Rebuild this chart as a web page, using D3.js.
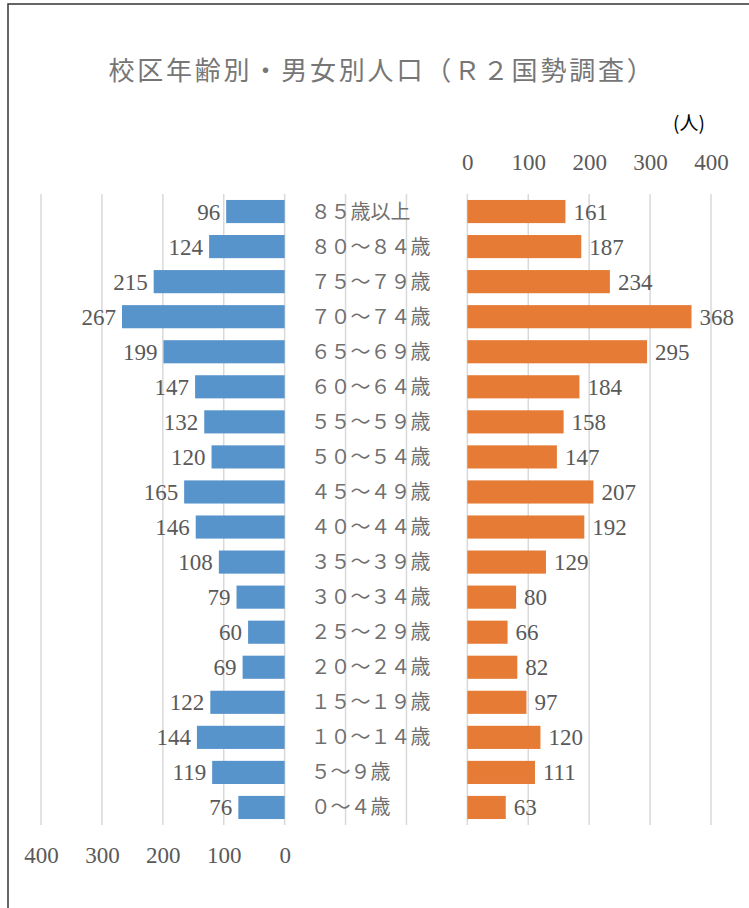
<!DOCTYPE html>
<html>
<head>
<meta charset="utf-8">
<script src="https://cdn.jsdelivr.net/npm/d3@7"></script>
<style>
  body { margin: 0; background: #fff; }
  svg { display: block; }
  .num { font-family: "Liberation Serif", "DejaVu Serif", serif; font-size: 23px; fill: #595959; }
  .cat { font-family: "Noto Sans CJK JP", sans-serif; font-size: 20px; fill: #707070; }
</style>
</head>
<body>
<svg id="chart" width="749" height="908"></svg>
<script>
// age groups, top to bottom
var categories = ["８５歳以上", "８０～８４歳", "７５～７９歳", "７０～７４歳", "６５～６９歳",
  "６０～６４歳", "５５～５９歳", "５０～５４歳", "４５～４９歳", "４０～４４歳", "３５～３９歳",
  "３０～３４歳", "２５～２９歳", "２０～２４歳", "１５～１９歳", "１０～１４歳", "５～９歳", "０～４歳"];
var male   = [96, 124, 215, 267, 199, 147, 132, 120, 165, 146, 108, 79, 60, 69, 122, 144, 119, 76];
var female = [161, 187, 234, 368, 295, 184, 158, 147, 207, 192, 129, 80, 66, 82, 97, 120, 111, 63];
var axisTicks = [0, 100, 200, 300, 400];
var gridTicks = d3.range(400, -701, -100);

var svg = d3.select("#chart");

// chart frame (right / bottom edge fall outside the picture)
svg.append("rect")
  .attr("x", 8).attr("y", 4)
  .attr("width", 780).attr("height", 940)
  .attr("fill", "none")
  .attr("stroke", "#404040")
  .attr("stroke-width", 1.6);

// one scale spanning the whole grid, plus one per side
var xg = d3.scaleLinear().domain([400, -700]).range([41, 711]);
var xL = d3.scaleLinear().domain([0, 400]).range([xg(0), xg(400)]);
var xR = d3.scaleLinear().domain([0, 400]).range([xg(-300), xg(-700)]);

var y = d3.scaleBand()
  .domain(categories)
  .range([194, 825])
  .paddingInner(0.34)
  .paddingOuter(0.17);

// gridlines
svg.append("g").selectAll("line")
  .data(gridTicks)
  .enter().append("line")
  .attr("x1", function (d) { return xg(d); })
  .attr("x2", function (d) { return xg(d); })
  .attr("y1", 194).attr("y2", 825)
  .attr("stroke", "#d9d9d9")
  .attr("stroke-width", 1.5);

// title
svg.append("text")
  .attr("x", 382).attr("y", 80)
  .attr("text-anchor", "middle")
  .style("font-family", "'Noto Sans CJK JP', sans-serif")
  .style("font-size", "26px")
  .style("letter-spacing", "2.8px")
  .style("fill", "#767676")
  .text("校区年齢別・男女別人口（Ｒ２国勢調査）");

// unit
svg.append("text")
  .attr("x", 689).attr("y", 130)
  .attr("text-anchor", "middle")
  .style("font-family", "'Noto Sans CJK JP', sans-serif")
  .style("font-size", "19px")
  .style("fill", "#000")
  .text("(人)");

// axes: right side ticks on top, left side ticks at bottom
var topAxis = svg.append("g")
  .attr("transform", "translate(0,170)")
  .call(d3.axisTop(xR).tickValues(axisTicks).tickSize(0).tickPadding(0));
var bottomAxis = svg.append("g")
  .attr("transform", "translate(0,863)")
  .call(d3.axisTop(xL).tickValues(axisTicks).tickSize(0).tickPadding(0));
[topAxis, bottomAxis].forEach(function (a) {
  a.select(".domain").remove();
  a.attr("font-family", null).attr("font-size", null);
  a.selectAll("text").attr("class", "num").attr("y", 0).attr("dy", 0).attr("fill", null);
});

// male bars (left)
svg.append("g").selectAll("rect")
  .data(male)
  .enter().append("rect")
  .attr("x", function (d) { return xL(d); })
  .attr("y", function (d, i) { return y(categories[i]); })
  .attr("width", function (d) { return xL(0) - xL(d); })
  .attr("height", y.bandwidth())
  .attr("fill", "#5894CC");

svg.append("g").selectAll("text")
  .data(male)
  .enter().append("text")
  .attr("class", "num")
  .attr("text-anchor", "end")
  .attr("x", function (d) { return xL(d) - 6; })
  .attr("y", function (d, i) { return y(categories[i]) + y.bandwidth() / 2 + 8; })
  .text(function (d) { return d; });

// female bars (right)
svg.append("g").selectAll("rect")
  .data(female)
  .enter().append("rect")
  .attr("x", xR(0))
  .attr("y", function (d, i) { return y(categories[i]); })
  .attr("width", function (d) { return xR(d) - xR(0); })
  .attr("height", y.bandwidth())
  .attr("fill", "#E57B35");

svg.append("g").selectAll("text")
  .data(female)
  .enter().append("text")
  .attr("class", "num")
  .attr("x", function (d) { return xR(d) + 8; })
  .attr("y", function (d, i) { return y(categories[i]) + y.bandwidth() / 2 + 8; })
  .text(function (d) { return d; });

// age labels in the middle
svg.append("g").selectAll("text")
  .data(categories)
  .enter().append("text")
  .attr("class", "cat")
  .attr("x", xL(0) + 26)
  .attr("y", function (d) { return y(d) + y.bandwidth() / 2 + 7; })
  .text(function (d) { return d; });
</script>
</body>
</html>
